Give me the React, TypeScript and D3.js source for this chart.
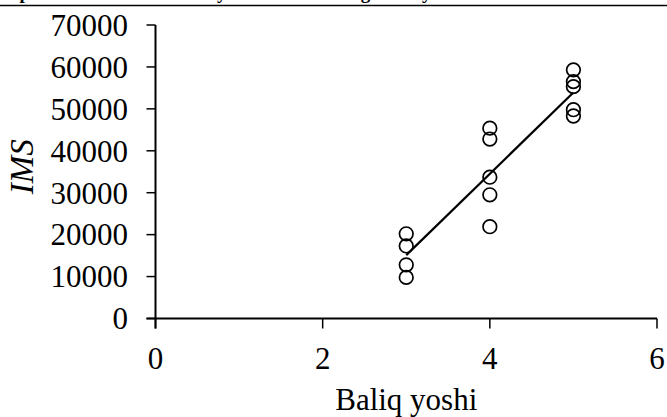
import React from "react";
import * as d3 from "d3";

const titleText = "Tipik IMS ko'rsatkichi va yoshi bilan o'sishiga mos yo'nalishda";
const xLabel = "Baliq yoshi";
const yLabel = "IMS";
const xTicks = [0, 2, 4, 6];
const yTicks = [0, 10000, 20000, 30000, 40000, 50000, 60000, 70000];
const ages = [3, 3, 3, 3, 4, 4, 4, 4, 4, 5, 5, 5, 5, 5];
const ims = [20200, 17300, 12800, 9800, 45400, 42800, 33700, 29500, 21900, 59300, 56500, 55300, 49800, 48300];

const W = 667;
const H = 417;

export default function App() {
  const x = d3.scaleLinear().domain([0, 6]).range([155.5, 657]);
  const y = d3.scaleLinear().domain([0, 70000]).range([318.5, 25]);

  const mx = d3.mean(ages) as number;
  const my = d3.mean(ims) as number;
  let sxy = 0;
  let sxx = 0;
  ages.forEach((a, i) => {
    sxy += (a - mx) * (ims[i] - my);
    sxx += (a - mx) * (a - mx);
  });
  const slope = sxy / sxx;
  const intercept = my - slope * mx;
  const xMin = d3.min(ages) as number;
  const xMax = d3.max(ages) as number;
  const fitPts: [number, number][] = [xMin, xMax].map((a) => [a, intercept + slope * a]);
  const line = d3
    .line<[number, number]>()
    .x((d) => x(d[0]))
    .y((d) => y(d[1]));

  const font = "'Liberation Serif', 'Times New Roman', serif";
  const [x0, x1] = x.range();
  const [y0, y1] = y.range();

  return (
    <svg
      width={W}
      height={H}
      viewBox={`0 0 ${W} ${H}`}
      style={{ position: "absolute", left: 0, top: 0, background: "#fff" }}
      fontFamily={font}
    >
      <rect x={0} y={0} width={W} height={H} fill="#fff" />
      <text x={2} y={-1} fontSize={19} fontWeight="bold" fill="#000">
        {titleText}
      </text>
      <line x1={0} x2={W} y1={5.5} y2={5.5} stroke="#000" strokeWidth={1.5} />

      {/* y axis */}
      <line x1={x0} x2={x0} y1={y1} y2={y0 + 10} stroke="#000" strokeWidth={2} />
      {yTicks.map((t) => (
        <g key={"y" + t}>
          <line x1={x0 - 9} x2={x0} y1={y(t)} y2={y(t)} stroke="#000" strokeWidth={1.5} />
          <text x={128} y={y(t)} dy="0.35em" textAnchor="end" fontSize={31} fill="#000">
            {t}
          </text>
        </g>
      ))}

      {/* x axis */}
      <line x1={x0 - 9} x2={x1} y1={y0} y2={y0} stroke="#000" strokeWidth={2} />
      {xTicks.map((t) => (
        <g key={"x" + t}>
          <line x1={x(t)} x2={x(t)} y1={y0} y2={y0 + 10} stroke="#000" strokeWidth={1.5} />
          <text x={x(t)} y={368.5} textAnchor="middle" fontSize={31} fill="#000">
            {t}
          </text>
        </g>
      ))}

      <text x={(x0 + x1) / 2} y={410} textAnchor="middle" fontSize={31} fill="#000">
        {xLabel}
      </text>
      <text
        transform={`translate(33, ${(y0 + y1) / 2 - 5}) rotate(-90)`}
        textAnchor="middle"
        fontSize={33}
        fontStyle="italic"
        fill="#000"
      >
        {yLabel}
      </text>

      {/* points */}
      {ages.map((a, i) => (
        <circle
          key={"p" + i}
          cx={x(a)}
          cy={y(ims[i])}
          r={6.8}
          fill="none"
          stroke="#000"
          strokeWidth={1.7}
        />
      ))}

      {/* trend line */}
      <path d={line(fitPts) || ""} fill="none" stroke="#000" strokeWidth={2.2} />
    </svg>
  );
}
